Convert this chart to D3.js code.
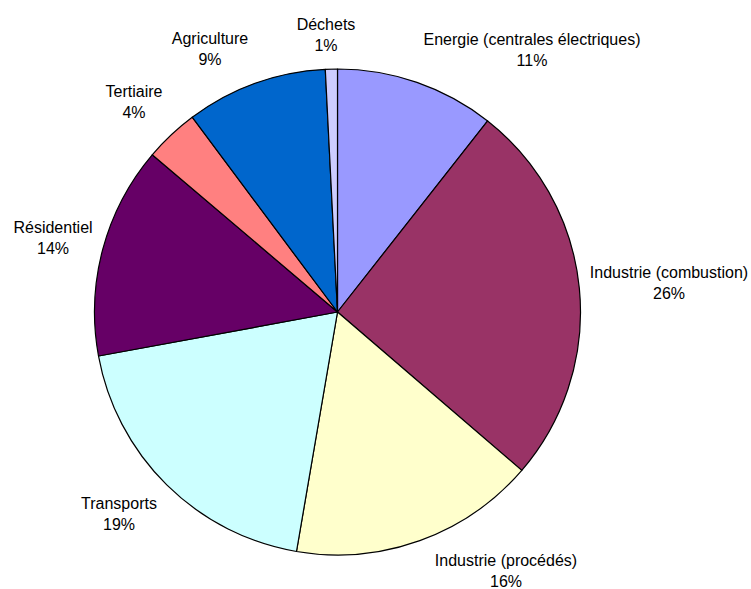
<!DOCTYPE html>
<html><head><meta charset="utf-8">
<script src="https://cdn.jsdelivr.net/npm/d3@7"></script>
<style>body{margin:0;background:#fff}svg{display:block}</style>
</head><body>
<svg id="chart" width="751" height="589"></svg>
<script>
const categories = ["Energie (centrales électriques)", "Industrie (combustion)", "Industrie (procédés)", "Transports", "Résidentiel", "Tertiaire", "Agriculture", "Déchets"];
const values = [10.6, 25.7, 16.4, 19.4, 14.1, 3.6, 9.4, 0.8];
const colors = ["#9999FF", "#993366", "#FFFFCC", "#CCFFFF", "#660066", "#FF8080", "#0066CC", "#CCCCFF"];
const labelPos = [[532, 45], [669, 278], [506, 566], [119, 509], [53, 233], [134, 97], [210, 44], [326, 30]];

const svg = d3.select("#chart");
const cx = 337.5, cy = 312, r = 243;
const total = d3.sum(values);
const pie = d3.pie().sort(null).value(d => d)(values);
const arc = d3.arc().innerRadius(0).outerRadius(r);
const g = svg.append("g").attr("transform", `translate(${cx},${cy})`);
g.selectAll("path").data(pie).join("path")
  .attr("d", arc)
  .attr("fill", (d, i) => colors[i])
  .attr("stroke", "#000").attr("stroke-width", 1.2).attr("stroke-linejoin", "round");

const lbl = svg.append("g").attr("font-family", "Arial, 'Liberation Sans', sans-serif").attr("font-size", 16).attr("fill", "#000").attr("text-anchor", "middle");
categories.forEach((c, i) => {
  const t = lbl.append("text").attr("x", labelPos[i][0]).attr("y", labelPos[i][1]);
  t.append("tspan").attr("x", labelPos[i][0]).text(c);
  t.append("tspan").attr("x", labelPos[i][0]).attr("dy", 21).text(Math.round(values[i] / total * 100) + "%");
});
</script>
</body></html>
